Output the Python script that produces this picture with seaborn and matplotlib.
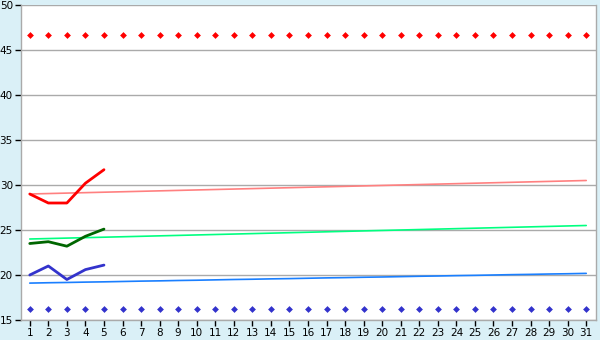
import matplotlib
matplotlib.use("Agg")
import matplotlib.pyplot as plt
import seaborn as sns
import pandas as pd

days = list(range(1, 32))
recent_days = [1, 2, 3, 4, 5]

upper_limit = [46.7] * 31
lower_limit = [16.2] * 31

trend_high = [29.0, 29.05, 29.1, 29.15, 29.2, 29.25, 29.3, 29.35, 29.4, 29.45, 29.5,
              29.55, 29.6, 29.65, 29.7, 29.75, 29.8, 29.85, 29.9, 29.95, 30.0,
              30.05, 30.1, 30.15, 30.2, 30.25, 30.3, 30.35, 30.4, 30.45, 30.5]
trend_mid = [24.0, 24.05, 24.1, 24.15, 24.2, 24.25, 24.3, 24.35, 24.4, 24.45, 24.5,
             24.55, 24.6, 24.65, 24.7, 24.75, 24.8, 24.85, 24.9, 24.95, 25.0,
             25.05, 25.1, 25.15, 25.2, 25.25, 25.3, 25.35, 25.4, 25.45, 25.5]
trend_low = [19.10, 19.14, 19.17, 19.21, 19.24, 19.28, 19.32, 19.35, 19.39, 19.42, 19.46,
             19.50, 19.53, 19.57, 19.60, 19.64, 19.68, 19.71, 19.75, 19.78, 19.82,
             19.86, 19.89, 19.93, 19.96, 20.00, 20.04, 20.07, 20.11, 20.14, 20.18]

actual_high = [29.0, 28.0, 28.0, 30.2, 31.7]
actual_mid = [23.5, 23.7, 23.2, 24.3, 25.1]
actual_low = [20.0, 21.0, 19.5, 20.6, 21.1]

y_ticks = [15, 20, 25, 30, 35, 40, 45, 50]

sns.set_style("white")
plt.rcParams['font.family'] = ['DejaVu Sans']

fig = plt.figure(figsize=(6.0, 3.4), dpi=100, facecolor="#DAF0F7")
ax = fig.add_axes([20.5 / 600, 20 / 340, 575 / 600, 315 / 340])
ax.set_facecolor("white")

df_full = pd.DataFrame({"day": days, "up": upper_limit, "lo": lower_limit,
                        "th": trend_high, "tm": trend_mid, "tl": trend_low})
df_recent = pd.DataFrame({"day": recent_days, "ah": actual_high,
                          "am": actual_mid, "al": actual_low})

sns.lineplot(data=df_full, x="day", y="th", ax=ax, color="#FF8080", linewidth=1.2)
sns.lineplot(data=df_full, x="day", y="tm", ax=ax, color="#00FF80", linewidth=1.2)
sns.lineplot(data=df_full, x="day", y="tl", ax=ax, color="#1A7FFF", linewidth=1.2)

sns.lineplot(data=df_recent, x="day", y="ah", ax=ax, color="#FF0000", linewidth=2)
sns.lineplot(data=df_recent, x="day", y="am", ax=ax, color="#006600", linewidth=2)
sns.lineplot(data=df_recent, x="day", y="al", ax=ax, color="#3333CC", linewidth=2)

sns.scatterplot(data=df_full, x="day", y="up", ax=ax, color="#FF0000", marker="D",
                s=12, linewidth=0)
sns.scatterplot(data=df_full, x="day", y="lo", ax=ax, color="#3333CC", marker="D",
                s=12, linewidth=0)

ax.set_xlim(0.5, 31.5)
ax.set_ylim(15, 50)
ax.set_xticks(days)
ax.set_yticks(y_ticks)
ax.set_xlabel("")
ax.set_ylabel("")
ax.yaxis.grid(True, color="#AAAAAA", linewidth=1)
ax.xaxis.grid(False)
ax.set_axisbelow(True)
for side in ["left", "right", "bottom"]:
    ax.spines[side].set_color("#AAAAAA")
    ax.spines[side].set_linewidth(1)
ax.spines["top"].set_visible(False)
ax.tick_params(axis="both", which="both", direction="out", length=4, width=1,
               color="black", labelcolor="black", labelsize=7.5, pad=1.5,
               left=True, bottom=True)

fig.savefig("out.png", dpi=100, facecolor=fig.get_facecolor())
